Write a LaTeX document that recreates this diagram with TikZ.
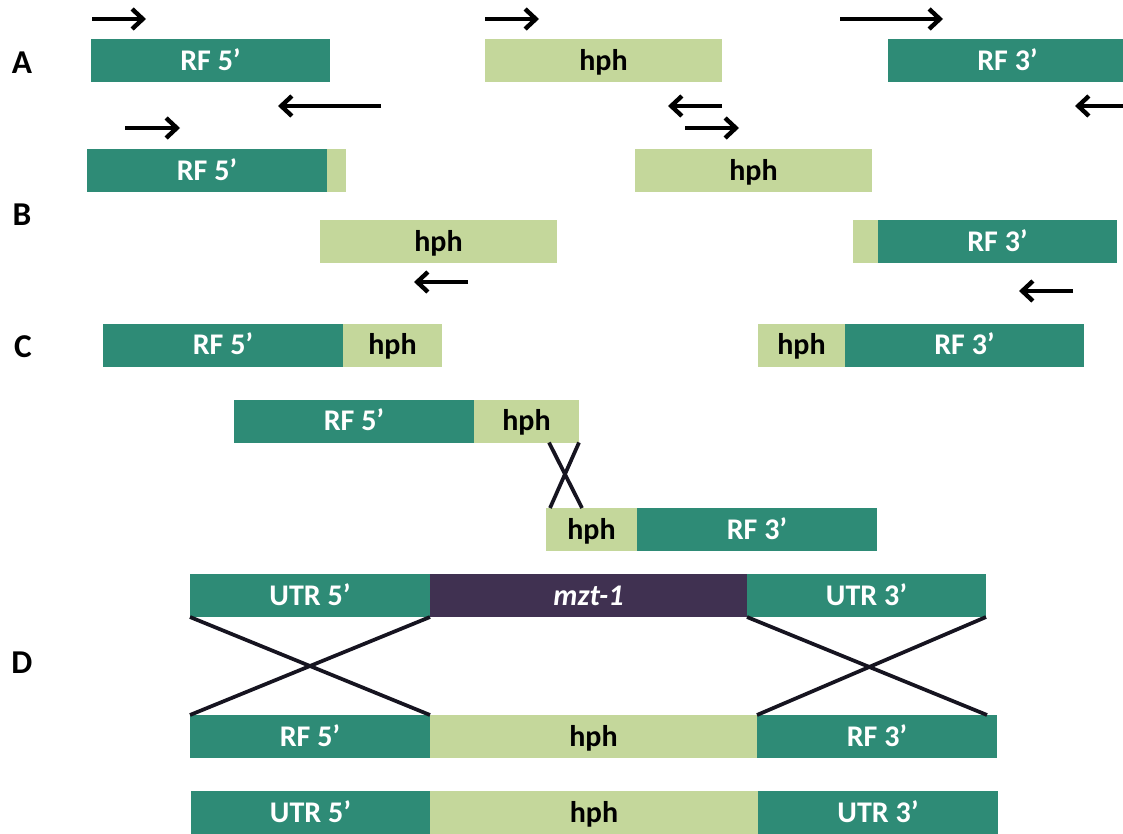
\documentclass[tikz,border=0pt]{standalone}
\usepackage{fontspec}
\setmainfont{Carlito}
\usetikzlibrary{arrows.meta,calc}
\definecolor{rfteal}{HTML}{2E8B76}
\definecolor{hphgreen}{HTML}{C4D79B}
\definecolor{genepurple}{HTML}{403151}
\definecolor{crossline}{HTML}{161420}
\tikzset{
  seg/.style={inner sep=0pt, outer sep=0pt, minimum height=32.25pt,
    text height=14.6pt, text depth=0pt,
    font=\bfseries\fontsize{22.5}{26}\selectfont},
  rf/.style={seg, fill=rfteal, text=white},
  hp/.style={seg, fill=hphgreen, text=black},
  gene/.style={seg, fill=genepurple, text=white,
    font=\bfseries\itshape\fontsize{22.5}{26}\selectfont},
  panel/.style={font=\bfseries\fontsize{25}{28}\selectfont, text=black,
    text height=16pt, text depth=0pt, inner sep=0pt},
  primer/.style={line width=3.3pt, -{Straight Barb[length=8pt,width=15pt]}},
  xover/.style={line width=2.8pt, draw=crossline}
}
\begin{document}
\begin{tikzpicture}[x=0.75pt, y=-0.75pt]
\clip (0,0) rectangle (1123,834);
\fill[white] (0,0) rectangle (1123,834);

% panel letters
\node[panel] (labA) at (22,63) {A};
\node[panel] (labB) at (22,215) {B};
\node[panel] (labC) at (23,347) {C};
\node[panel] (labD) at (22,663) {D};

% ---- A: separate fragments and their primers
\node[rf, minimum width=179.25pt] (aRF5) at (210.5,61) {RF 5’};
\node[hp, minimum width=177.75pt] (aHph) at (603.5,61) {hph};
\node[rf, minimum width=179.25pt] (aRF3) at (1007.5,61) {RF 3’};

\coordinate (p1s) at (92,19);    \coordinate (p1e) at (146,19);
\coordinate (p2s) at (381,106);  \coordinate (p2e) at (278,106);
\coordinate (p3s) at (485,19);   \coordinate (p3e) at (539,19);
\coordinate (p4s) at (722,106);  \coordinate (p4e) at (668,106);
\coordinate (p5s) at (685,128);  \coordinate (p5e) at (739,128);
\coordinate (p6s) at (840,19);   \coordinate (p6e) at (943,19);
\coordinate (p7s) at (1135,106); \coordinate (p7e) at (1075,106);
\draw[primer] (p1s) -- (p1e);
\draw[primer] (p2s) -- (p2e);
\draw[primer] (p3s) -- (p3e);
\draw[primer] (p4s) -- (p4e);
\draw[primer] (p5s) -- (p5e);
\draw[primer] (p6s) -- (p6e);
\draw[primer] (p7s) -- (p7e);

% ---- B: fragments with overlapping tails
\node[rf, minimum width=180pt] (bRF5) at (207,171) {RF 5’};
\node[hp, minimum width=14.25pt] (bRF5t) at (336.5,171) {};
\node[hp, minimum width=177.75pt] (bHphR) at (753.5,171) {hph};
\node[hp, minimum width=177.75pt] (bHphL) at (438.5,241.5) {hph};
\node[hp, minimum width=18.75pt] (bRF3t) at (865.5,241.5) {};
\node[rf, minimum width=179.25pt] (bRF3) at (997.5,241.5) {RF 3’};

\coordinate (q1s) at (125,128);  \coordinate (q1e) at (180,128);
\coordinate (q2s) at (468,282);  \coordinate (q2e) at (414,282);
\coordinate (q3s) at (1073,291); \coordinate (q3e) at (1019,291);
\draw[primer] (q1s) -- (q1e);
\draw[primer] (q2s) -- (q2e);
\draw[primer] (q3s) -- (q3e);

% ---- C: fused split markers
\node[rf, minimum width=180pt] (cRF5) at (223,345) {RF 5’};
\node[hp, minimum width=74.25pt] (cHph5) at (392.5,345) {hph};
\node[hp, minimum width=65.25pt] (cHph3) at (801.5,345) {hph};
\node[rf, minimum width=179.25pt] (cRF3) at (964.5,345) {RF 3’};

\node[rf, minimum width=180pt] (dRF5) at (354,421) {RF 5’};
\node[hp, minimum width=78.75pt] (dHph5) at (526.5,421) {hph};
\node[hp, minimum width=68.25pt] (dHph3) at (591.5,529.5) {hph};
\node[rf, minimum width=180pt] (dRF3) at (757,529.5) {RF 3’};

\draw[xover] (dHph5.south east) -- ($(dHph3.north west)+(4,0)$);
\draw[xover] ($(dHph5.south east)+(-30,0)$) -- ($(dHph3.north west)+(36,0)$);

% ---- D: homologous recombination at the mzt-1 locus
\node[rf, minimum width=180pt] (utr5) at (310,595.5) {UTR 5’};
\node[gene, minimum width=237.75pt] (mzt) at (588.5,595.5) {mzt-1};
\node[rf, minimum width=179.25pt] (utr3) at (866.5,595.5) {UTR 3’};

\node[rf, minimum width=180pt] (kRF5) at (310,736.5) {RF 5’};
\node[hp, minimum width=245.25pt] (kHph) at (593.5,736.5) {hph};
\node[rf, minimum width=180pt] (kRF3) at (877,736.5) {RF 3’};

\draw[xover] (utr5.south west) -- (kRF5.north east);
\draw[xover] (utr5.south east) -- (kRF5.north west);
\draw[xover] (utr3.south west) -- ($(kRF3.north east)+(-10,0)$);
\draw[xover] (utr3.south east) -- (kRF3.north west);

\node[rf, minimum width=179.25pt] (mUtr5) at (310.5,812.5) {UTR 5’};
\node[hp, minimum width=246pt] (mHph) at (594,812.5) {hph};
\node[rf, minimum width=180pt] (mUtr3) at (878,812.5) {UTR 3’};
\end{tikzpicture}
\end{document}
